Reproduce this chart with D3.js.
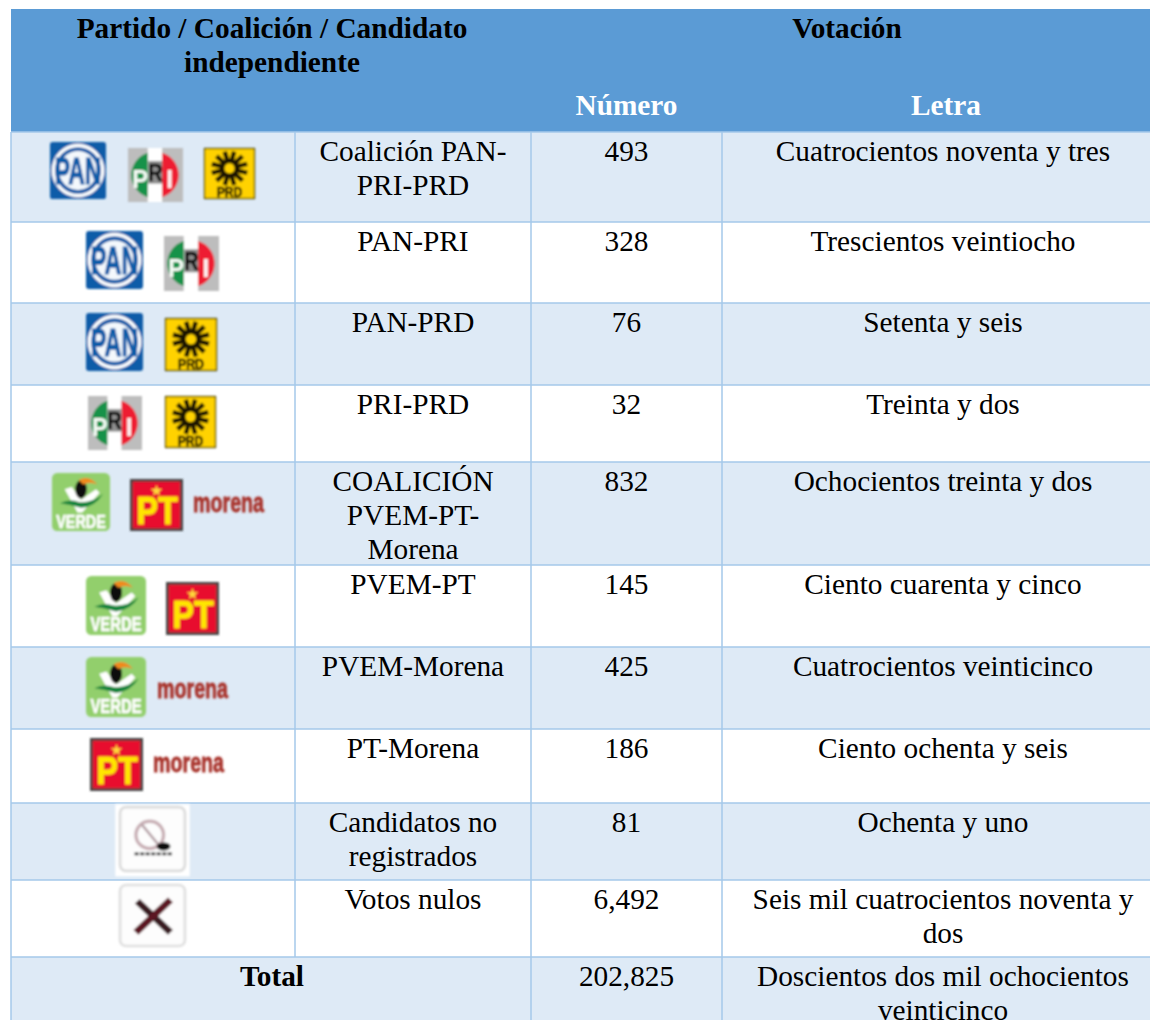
<!DOCTYPE html>
<html lang="es">
<head>
    <meta http-equiv="Content-Type" content="text/html; charset=UTF-8" />
    <script src="https://d3js.org/d3.v7.min.js"></script>
    <title>Votación</title>
    <style>
        html, body { margin: 0; padding: 0; background: #fff; }
        svg { display: block; }
        text { font-family: "Liberation Serif", serif; }
    </style>
</head>
<body>
<svg></svg>
<script>
    // Table contents
    let categories = ["Coalición PAN-\nPRI-PRD", "PAN-PRI", "PAN-PRD", "PRI-PRD", "COALICIÓN\nPVEM-PT-\nMorena",
        "PVEM-PT", "PVEM-Morena", "PT-Morena", "Candidatos no\nregistrados", "Votos nulos"];
    let votes = [493, 328, 76, 32, 832, 145, 425, 186, 81, 6492];
    let voteWords = ["Cuatrocientos noventa y tres", "Trescientos veintiocho", "Setenta y seis", "Treinta y dos",
        "Ochocientos treinta y dos", "Ciento cuarenta y cinco", "Cuatrocientos veinticinco", "Ciento ochenta y seis",
        "Ochenta y uno", "Seis mil cuatrocientos noventa y\ndos"];
    let logoNames = [["PAN", "PRI", "PRD"], ["PAN", "PRI"], ["PAN", "PRD"], ["PRI", "PRD"], ["VERDE", "PT", "morena"],
        ["VERDE", "PT"], ["VERDE", "morena"], ["PT", "morena"], ["noreg"], ["nulo"]];
    let totalLabel = "Total";
    let totalVotes = 202825;
    let totalWords = "Doscientos dos mil ochocientos\nveinticinco";

    // Layout
    let width = 1150, height = 1020;
    let fontSize = 29.3, lineStep = 34;
    let colEdges = [11, 295, 531, 722, 1164];
    let rowEdges = [132, 222, 303, 385, 462, 565, 647, 729, 803, 880, 957, 1030];
    let logoBoxes = [
        [[50, 142, 56, 57], [128, 148, 55, 54], [204, 148, 51, 51]],
        [[86, 231, 57, 58], [164, 236, 55, 55]],
        [[86, 313, 57, 58], [165, 318, 52, 53]],
        [[88, 396, 54, 54], [165, 396, 51, 52]],
        [[52, 473, 58, 58], [130, 479, 53, 52], [193, 497, 71, 100]],
        [[86, 576, 60, 59], [166, 582, 53, 53]],
        [[86, 657, 60, 60], [157, 683, 71, 100]],
        [[90, 738, 53, 53], [153, 757, 71, 100]],
        [[118, 805, 69, 68]],
        [[118, 883, 69, 65]]
    ];

    let rowScale = d3.scaleOrdinal(d3.range(rowEdges.length), rowEdges);
    let votesX = (colEdges[2] + colEdges[3]) / 2;
    let wordsX = (colEdges[3] + colEdges[4]) / 2;
    let nameX = (colEdges[1] + colEdges[2]) / 2;
    let formatVotes = d3.format(",");

    let svg = d3.select("svg").attr("width", width).attr("height", height)
        .attr("viewBox", "0 0 " + width + " " + height);

    // slight blur, the logos are low resolution pictures in the source
    svg.append("defs").append("filter").attr("id", "soft")
        .attr("filterUnits", "userSpaceOnUse").attr("x", 0).attr("y", 0).attr("width", width).attr("height", height)
        .append("feGaussianBlur").attr("stdDeviation", 0.9);

    // Header band
    svg.append("rect").attr("x", colEdges[0]).attr("y", 9)
        .attr("width", width - colEdges[0]).attr("height", rowEdges[0] - 9).attr("fill", "#5b9bd5");

    // Row stripes
    svg.append("g").selectAll("rect").data(d3.range(rowEdges.length - 1)).join("rect")
        .attr("x", colEdges[0])
        .attr("y", d => rowScale(d))
        .attr("width", width - colEdges[0])
        .attr("height", d => rowScale(d + 1) - rowScale(d))
        .attr("fill", d => d % 2 == 0 ? "#deeaf6" : "#fff");

    // Grid lines
    let grid = svg.append("g").attr("stroke", "#a5c8ea").attr("stroke-width", 1.5);
    grid.selectAll(".h").data(d3.range(rowEdges.length - 1)).join("line")
        .attr("x1", colEdges[0]).attr("x2", width)
        .attr("y1", d => rowScale(d)).attr("y2", d => rowScale(d));
    grid.append("line").attr("x1", colEdges[0]).attr("x2", colEdges[0]).attr("y1", 132).attr("y2", height);
    grid.append("line").attr("x1", colEdges[1]).attr("x2", colEdges[1]).attr("y1", 132).attr("y2", rowScale(10));
    grid.append("line").attr("x1", colEdges[2]).attr("x2", colEdges[2]).attr("y1", 132).attr("y2", height);
    grid.append("line").attr("x1", colEdges[3]).attr("x2", colEdges[3]).attr("y1", 132).attr("y2", height);

    // Multi line centered text helper
    function cellText(x, y, str, color, weight) {
        let t = svg.append("text").attr("text-anchor", "middle").attr("x", x).attr("y", y)
            .attr("font-size", fontSize).attr("fill", color || "#000").attr("font-weight", weight || "normal");
        t.selectAll("tspan").data(str.split("\n")).join("tspan")
            .attr("x", x).attr("dy", (d, i) => i == 0 ? 0 : lineStep).text(d => d);
    }

    cellText(272, 37.6, "Partido / Coalición / Candidato\nindependiente", "#000", "bold");
    cellText(847, 37.6, "Votación", "#000", "bold");
    cellText(votesX, 114.6, "Número", "#fff", "bold");
    cellText(946, 114.6, "Letra", "#fff", "bold");

    categories.forEach((d, i) => {
        let y = rowScale(i) + 28.6;
        cellText(nameX, y, d);
        cellText(votesX, y, formatVotes(votes[i]));
        cellText(wordsX, y, voteWords[i]);
    });
    cellText(272, rowScale(10) + 28.6, totalLabel, "#000", "bold");
    cellText(votesX, rowScale(10) + 28.6, formatVotes(totalVotes));
    cellText(wordsX, rowScale(10) + 28.6, totalWords);

    // Logos, each one drawn in a 100x100 box and stretched to fit
    function logoText(g, x, y, size, str, fill, sx) {
        sx = sx || 1;
        return g.append("text").attr("x", x / sx).attr("y", y).attr("text-anchor", "middle")
            .attr("transform", "scale(" + sx + ",1)")
            .attr("font-size", size).attr("font-weight", "bold").attr("fill", fill)
            .style("font-family", "'Liberation Sans', sans-serif").text(str);
    }

    let drawLogo = {
        PAN: g => {
            g.append("rect").attr("width", 100).attr("height", 100).attr("rx", 5).attr("fill", "#0f5ca8");
            g.append("circle").attr("cx", 50).attr("cy", 50).attr("r", 44).attr("fill", "none").attr("stroke", "#fff").attr("stroke-width", 6);
            g.append("circle").attr("cx", 50).attr("cy", 50).attr("r", 34).attr("fill", "#f4f8fc");
            logoText(g, 50, 74, 66, "PAN", "#0f5ca8", 0.62).attr("stroke", "#0f5ca8").attr("stroke-width", 2);
        },
        PRI: g => {
            g.append("rect").attr("width", 100).attr("height", 100).attr("fill", "#bdbdbd");
            g.append("rect").attr("x", 36).attr("width", 26).attr("height", 100).attr("fill", "#fff");
            g.append("path").attr("d", "M36,9 A43,43 0 0 0 36,91 Z").attr("fill", "#14924a");
            g.append("path").attr("d", "M62,9 A43,43 0 0 1 62,91 Z").attr("fill", "#ee1c30");
            g.append("rect").attr("x", 37).attr("y", 24).attr("width", 25).attr("height", 42).attr("fill", "#8f8f8f");
            logoText(g, 22, 74, 48, "P", "#f6fbf6", 0.9);
            logoText(g, 49.5, 62, 46, "R", "#0c0c0c", 0.8).attr("stroke", "#0c0c0c").attr("stroke-width", 1);
            logoText(g, 76, 74, 48, "I", "#fff2f2", 1);
        },
        PRD: g => {
            g.append("rect").attr("x", 1).attr("y", 1).attr("width", 98).attr("height", 98).attr("fill", "#ffd200").attr("stroke", "#4a3f10").attr("stroke-width", 2.5);
            let rays = g.append("g").attr("stroke", "#1c1704").attr("stroke-width", 9);
            d3.range(12).forEach(i => {
                let a = i * Math.PI / 6 + 0.26;
                rays.append("line").attr("x1", 50 + 14 * Math.cos(a)).attr("y1", 40 + 14 * Math.sin(a))
                    .attr("x2", 50 + 36 * Math.cos(a)).attr("y2", 40 + 34 * Math.sin(a));
            });
            g.append("circle").attr("cx", 50).attr("cy", 40).attr("r", 20).attr("fill", "#1c1704");
            g.append("circle").attr("cx", 50).attr("cy", 40).attr("r", 10).attr("fill", "#ffd200");
            logoText(g, 50, 96, 28, "PRD", "#1c1704", 0.85).attr("stroke", "#1c1704").attr("stroke-width", 1);
        },
        VERDE: g => {
            g.append("rect").attr("width", 100).attr("height", 100).attr("rx", 9).attr("fill", "#92cf6c");
            g.append("path").attr("d", "M22,28 L34,24 L50,46 L76,28 L82,34 L52,68 L44,68 Z").attr("fill", "#fff");
            g.append("path").attr("d", "M14,52 Q30,44 46,50 Q68,52 88,36 Q74,58 50,60 Q30,54 14,52 Z").attr("fill", "#13853c");
            g.append("ellipse").attr("cx", 50).attr("cy", 28).attr("rx", 10).attr("ry", 16).attr("fill", "#111");
            g.append("path").attr("d", "M46,12 Q64,2 78,20 Q66,14 54,20 Z").attr("fill", "#f08a1d");
            logoText(g, 50, 94, 33, "VERDE", "#fff", 0.75).attr("stroke", "#fff").attr("stroke-width", 1);
        },
        PT: g => {
            g.append("rect").attr("x", 2.5).attr("y", 2.5).attr("width", 95).attr("height", 95)
                .attr("fill", "#e8112d").attr("stroke", "#444").attr("stroke-width", 5);
            g.append("path").attr("d", d3.symbol(d3.symbolStar, 150)()).attr("transform", "translate(50,23)").attr("fill", "#ffd83a");
            let pt = logoText(g, 51, 87, 74, "PT", "#ffe600", 0.82);
            pt.attr("stroke", "#ffe600").attr("stroke-width", 2);
        },
        morena: g => {
            logoText(g, 50, 15, 27.7, "morena", "#a8332c").attr("stroke", "#a8332c").attr("stroke-width", 0.8);
        },
        noreg: g => {
            g.append("rect").attr("x", -4).attr("y", -1).attr("width", 108).attr("height", 106).attr("fill", "#fff");
            g.append("rect").attr("x", 3).attr("y", 3).attr("width", 94).attr("height", 94).attr("rx", 9)
                .attr("fill", "#fdfdfd").attr("stroke", "#dcdcdc").attr("stroke-width", 4);
            g.append("circle").attr("cx", 46).attr("cy", 44).attr("r", 20).attr("fill", "none").attr("stroke", "#c9b0b6").attr("stroke-width", 5);
            g.append("line").attr("x1", 34).attr("y1", 28).attr("x2", 60).attr("y2", 60).attr("stroke", "#bba8ad").attr("stroke-width", 4);
            g.append("ellipse").attr("cx", 66).attr("cy", 61).attr("rx", 10).attr("ry", 6).attr("fill", "#111");
            g.append("line").attr("x1", 24).attr("y1", 72).attr("x2", 80).attr("y2", 72).attr("stroke", "#333").attr("stroke-width", 4).attr("stroke-dasharray", "6 2");
        },
        nulo: g => {
            g.append("rect").attr("x", 3).attr("y", 3).attr("width", 94).attr("height", 94).attr("rx", 9)
                .attr("fill", "#fdfdfd").attr("stroke", "#e0e0e0").attr("stroke-width", 4);
            g.append("line").attr("x1", 28).attr("y1", 28).attr("x2", 76).attr("y2", 76).attr("stroke", "#3a1a20").attr("stroke-width", 10);
            g.append("line").attr("x1", 76).attr("y1", 26).attr("x2", 26).attr("y2", 76).attr("stroke", "#5c1420").attr("stroke-width", 10);
        }
    };

    let logos = svg.append("g").attr("filter", "url(#soft)");
    logoNames.forEach((names, i) => {
        names.forEach((name, j) => {
            let box = logoBoxes[i][j];
            let g = logos.append("g")
                .attr("transform", "translate(" + box[0] + "," + box[1] + ") scale(" + box[2] / 100 + "," + box[3] / 100 + ")");
            drawLogo[name](g);
        });
    });
</script>
</body>
</html>
